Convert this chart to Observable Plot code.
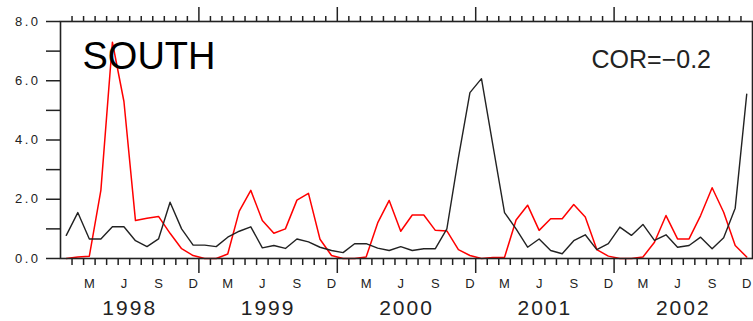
<!DOCTYPE html>
<html><head><meta charset="utf-8">
<script src="https://cdn.jsdelivr.net/npm/d3@7"></script>
<script src="https://cdn.jsdelivr.net/npm/@observablehq/plot@0.6"></script>
<style>
html,body{margin:0;padding:0;background:#fff;}
#chart svg{display:block;}
g[aria-label="y-axis tick label"] text{letter-spacing:2.5px;}
g.year-labels text{letter-spacing:2px;}
</style></head><body><div id="chart"></div>
<script>
// Monthly values, Jan 1998 .. Dec 2002
const years = [1998, 1999, 2000, 2001, 2002];
const monthLabels = ["M", "J", "S", "D"];
const monthLabelMonths = [2, 5, 8, 11]; // Mar, Jun, Sep, Dec (0-based)
const blackSeries = [
  0.78, 1.55, 0.66, 0.66, 1.07, 1.07, 0.60, 0.40, 0.66, 1.90, 1.00, 0.45,
  0.45, 0.40, 0.72, 0.92, 1.07, 0.36, 0.44, 0.34, 0.66, 0.56, 0.38, 0.27,
  0.20, 0.50, 0.50, 0.35, 0.27, 0.40, 0.27, 0.33, 0.33, 1.00, 3.40, 5.60,
  6.07, 3.80, 1.55, 1.00, 0.38, 0.66, 0.27, 0.16, 0.60, 0.80, 0.30, 0.50,
  1.06, 0.78, 1.15, 0.61, 0.80, 0.38, 0.44, 0.72, 0.33, 0.70, 1.70, 5.55
];
const redSeries = [
  0.00, 0.05, 0.08, 2.30, 7.30, 5.30, 1.28, 1.36, 1.42, 0.85, 0.33, 0.10,
  0.00, 0.00, 0.15, 1.60, 2.30, 1.28, 0.85, 1.00, 1.97, 2.20, 0.65, 0.10,
  0.00, 0.00, 0.05, 1.20, 1.96, 0.92, 1.47, 1.47, 0.95, 0.93, 0.30, 0.10,
  0.00, 0.03, 0.04, 1.30, 1.80, 0.95, 1.34, 1.34, 1.82, 1.40, 0.30, 0.08,
  0.00, 0.00, 0.05, 0.55, 1.45, 0.66, 0.66, 1.45, 2.39, 1.56, 0.44, 0.05
];
const yLabelTicks = [0, 2, 4, 6, 8];
const yMinorTicks = [1, 3, 5, 7];
const titleText = "SOUTH";
const corText = "COR=\u22120.2";

const blackRows = blackSeries.map((v, i) => ({t: i + 0.5, v}));
const redRows = redSeries.map((v, i) => ({t: i + 0.5, v}));
const nMonths = years.length * 12;
const monthBoundaries = d3.range(1, nMonths).filter(m => m % 12 !== 0);
const yearBoundaries = d3.range(12, nMonths, 12);
const monthLabelPos = years.flatMap((y, k) => monthLabelMonths.map(m => k * 12 + m + 0.5));
const yearLabelPos = years.map((y, k) => k * 12 + 6);
const none = () => "";
const ink = "#222";

const chart = Plot.plot({
  width: 753, height: 321,
  marginLeft: 60, marginRight: 1, marginTop: 21, marginBottom: 63,
  x: {domain: [0, nMonths], axis: null},
  y: {domain: [0, 8], axis: null},
  style: {fontFamily: "'Liberation Sans', Arial, sans-serif", background: "white", color: ink},
  marks: [
    Plot.line(redRows, {x: "t", y: "v", stroke: "#ff0000", strokeWidth: 1.5}),
    Plot.line(blackRows, {x: "t", y: "v", stroke: "#222", strokeWidth: 1.4}),
    Plot.frame({stroke: ink, strokeWidth: 1.6}),
    Plot.axisX(monthBoundaries, {anchor: "bottom", tickSize: 7, tickFormat: none, label: null, stroke: ink, strokeWidth: 1.5}),
    Plot.axisX(yearBoundaries, {anchor: "bottom", tickSize: 15, tickFormat: none, label: null, stroke: ink, strokeWidth: 1.5}),
    Plot.axisX(monthBoundaries, {anchor: "top", tickSize: 6, tickFormat: none, label: null, stroke: ink, strokeWidth: 1.5}),
    Plot.axisX(yearBoundaries, {anchor: "top", tickSize: 15, tickFormat: none, label: null, stroke: ink, strokeWidth: 1.5}),
    Plot.axisX(monthLabelPos, {anchor: "bottom", tickSize: 0, tickPadding: 20, fontSize: 13, label: null,
      tickFormat: d => monthLabels[monthLabelMonths.indexOf(Math.round(d - 0.5) % 12)]}),
    Plot.axisX(yearLabelPos, {anchor: "bottom", tickSize: 0, tickPadding: 42, fontSize: 21, label: null,
      className: "year-labels", tickFormat: d => String(years[Math.floor(d / 12)])}),
    Plot.axisY(yLabelTicks, {anchor: "left", tickSize: 14, tickPadding: 6, fontSize: 13, label: null,
      tickFormat: d3.format(".1f"), stroke: ink, strokeWidth: 1.5}),
    Plot.axisY(yMinorTicks, {anchor: "left", tickSize: 14, tickFormat: none, label: null, stroke: ink, strokeWidth: 1.5}),
    Plot.axisY(yLabelTicks.concat(yMinorTicks), {anchor: "right", tickSize: 6, tickFormat: none, label: null, stroke: ink, strokeWidth: 1.5}),
    Plot.text([titleText], {text: d => d, frameAnchor: "top-left", dx: 22, dy: 21, lineAnchor: "top", textAnchor: "start", fontSize: 38, fill: "black"}),
    Plot.text([corText], {text: d => d, frameAnchor: "top-left", dx: 531, dy: 29, lineAnchor: "top", textAnchor: "start", fontSize: 25, fill: ink})
  ]
});
document.getElementById("chart").appendChild(chart);
</script></body></html>
